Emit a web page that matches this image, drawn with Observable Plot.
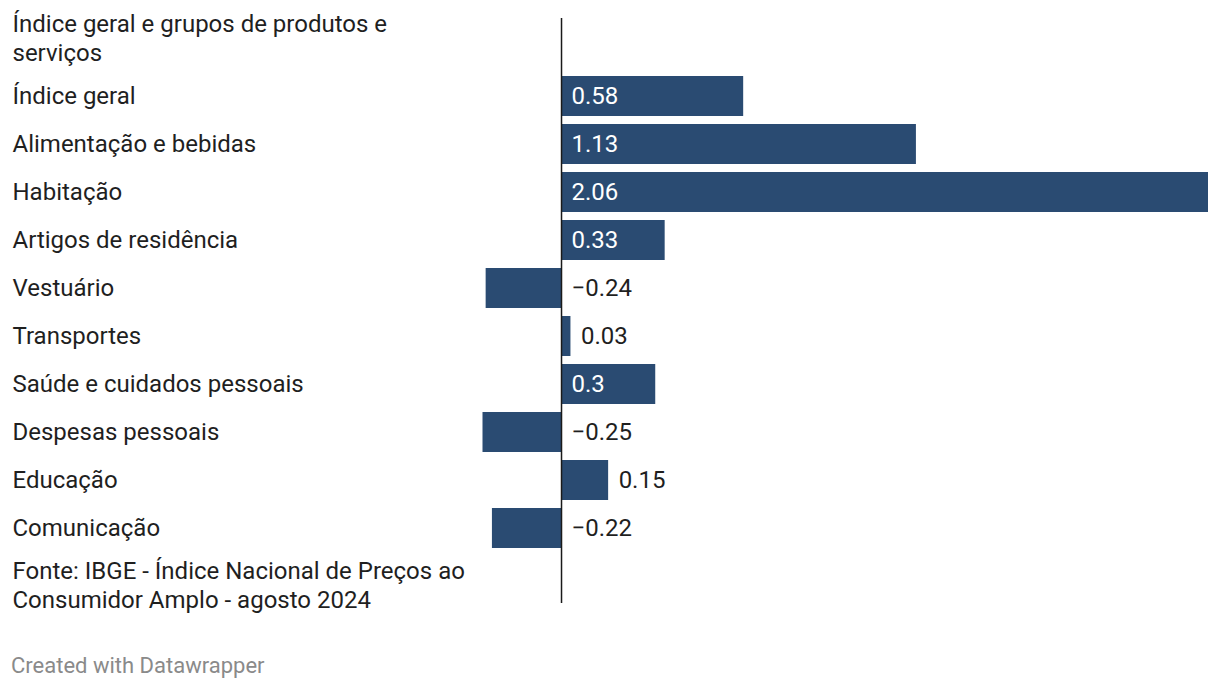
<!DOCTYPE html>
<html>
<head>
<meta charset="utf-8">
<script src="https://cdn.jsdelivr.net/npm/d3@7"></script>
<script src="https://cdn.jsdelivr.net/npm/@observablehq/plot@0.6"></script>
<style>
  html, body { margin: 0; padding: 0; background: #fff; }
  #chart svg { display: block; }
  #credit { font-family: Roboto, sans-serif; font-size: 22px; color: #8a8a8a; margin: 34px 0 0 11px; line-height: 24px; }
</style>
</head>
<body>
<div id="chart"></div>
<div id="credit">Created with Datawrapper</div>
<script>
const categories = [
  "Índice geral",
  "Alimentação e bebidas",
  "Habitação",
  "Artigos de residência",
  "Vestuário",
  "Transportes",
  "Saúde e cuidados pessoais",
  "Despesas pessoais",
  "Educação",
  "Comunicação"
];
const values = [0.58, 1.13, 2.06, 0.33, -0.24, 0.03, 0.3, -0.25, 0.15, -0.22];
const headerText = "Índice geral e grupos de produtos e\nserviços";
const footerText = "Fonte: IBGE - Índice Nacional de Preços ao\nConsumidor Amplo - agosto 2024";

const data = categories.map((c, i) => ({
  name: c,
  value: values[i],
  label: String(values[i]).replace("-", "\u2212"),
  inside: values[i] >= 0.3
}));

const barColor = "#2a4b72";
const textColor = "#1f1f1f";

const chart = Plot.plot({
  width: 1220,
  height: 620,
  marginTop: 18,
  marginBottom: 17,
  marginLeft: 0,
  marginRight: 12,
  style: { fontFamily: "Roboto, sans-serif", fontSize: "24px", color: textColor, background: "#fff" },
  x: { domain: [-0.25, 2.06], range: [482.5, 1208], axis: null },
  y: { domain: categories, range: [72, 552], paddingInner: 1/6, paddingOuter: 1/12, axis: null },
  marks: [
    Plot.barX(data, { x: "value", y: "name", fill: barColor }),
    Plot.ruleX([0], { stroke: "#1a1a1a", strokeWidth: 1.5 }),
    Plot.text(data, { y: "name", text: "name", frameAnchor: "left", dx: 12, textAnchor: "start", fill: textColor }),
    Plot.text(data.filter(d => d.inside), { x: 0, y: "name", text: "label", dx: 10, textAnchor: "start", fill: "#fff" }),
    Plot.text(data.filter(d => !d.inside), { x: d => Math.max(0, d.value), y: "name", text: "label", dx: 10, textAnchor: "start", fill: textColor }),
    Plot.text([headerText], { frameAnchor: "top-left", dx: 12, dy: 19, lineAnchor: "middle", textAnchor: "start", lineHeight: 1.17, fill: textColor }),
    Plot.text([footerText], { frameAnchor: "bottom-left", dx: 12, dy: -19, lineAnchor: "middle", textAnchor: "start", lineHeight: 1.17, fill: textColor })
  ]
});
document.getElementById("chart").appendChild(chart);
</script>
</body>
</html>
